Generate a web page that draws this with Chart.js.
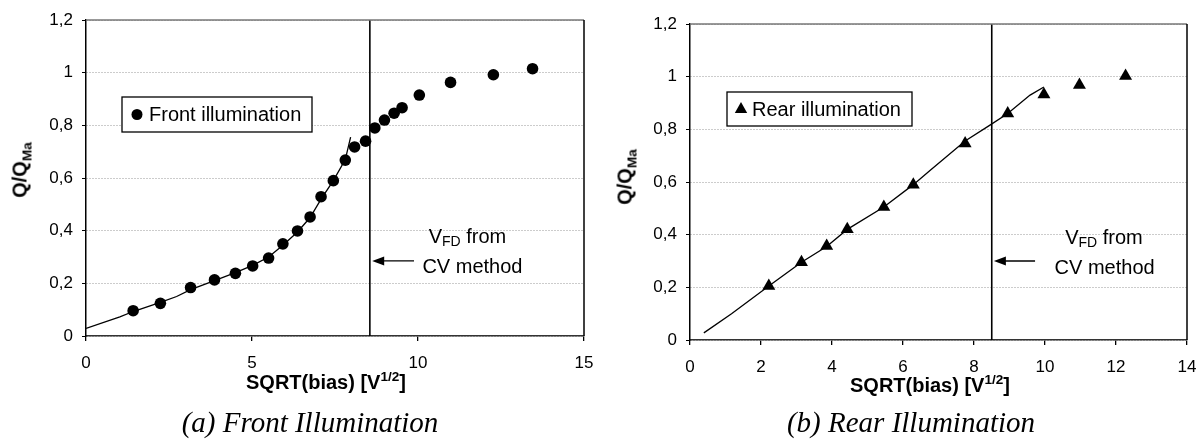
<!DOCTYPE html>
<html>
<head>
<meta charset="utf-8">
<script src="https://cdn.jsdelivr.net/npm/chart.js@4.4.1/dist/chart.umd.min.js"></script>
<style>
    body { margin: 0; background: #fff; }
    #wrap { position: relative; width: 1197px; height: 441px; overflow: hidden; font-family: "Liberation Sans", Arial, sans-serif; }
    .box { position: absolute; top: 0; }
    .ytitle, .xtitle, .caption { position: absolute; white-space: nowrap; transform: translate(-50%, -50%); }
    .ytitle { font-weight: bold; font-size: 20px; transform: translate(-50%, -50%) rotate(-90deg); }
    .xtitle { font-weight: bold; font-size: 20px; }
    .ytitle sub, .xtitle sup { font-size: 68%; line-height: 0; }
    .caption { font-family: "Liberation Serif", "DejaVu Serif", serif; font-style: italic; font-size: 29px; }
</style>
</head>
<body>
<div id="wrap">
    <div class="box" style="left:0"><canvas id="frontChart" width="598" height="400"></canvas></div>
    <div class="box" style="left:599px"><canvas id="rearChart" width="598" height="400"></canvas></div>

    <div class="ytitle" style="left:20px;top:170px">Q/Q<sub>Ma</sub></div>
    <div class="xtitle" style="left:326px;top:382px">SQRT(bias) [V<sup>1/2</sup>]</div>
    <div class="caption" style="left:310px;top:422px">(a) Front Illumination</div>

    <div class="ytitle" style="left:625px;top:177px">Q/Q<sub>Ma</sub></div>
    <div class="xtitle" style="left:930px;top:385px">SQRT(bias) [V<sup>1/2</sup>]</div>
    <div class="caption" style="left:911px;top:422px">(b) Rear Illumination</div>
</div>

<script>
// measured points, front illumination
const frontX = [1.42, 2.24, 3.15, 3.87, 4.5, 5.02, 5.5, 5.93, 6.37, 6.75, 7.08, 7.45, 7.81, 8.09, 8.42, 8.7, 8.99, 9.28, 9.52, 10.04, 10.98, 12.27, 13.45];
const frontY = [0.096, 0.124, 0.184, 0.213, 0.238, 0.266, 0.296, 0.35, 0.399, 0.452, 0.529, 0.59, 0.668, 0.718, 0.74, 0.79, 0.82, 0.846, 0.867, 0.915, 0.963, 0.992, 1.015];
// fitted curve, front
const frontFitX = [0, 1.02, 1.42, 2.24, 2.73, 3.15, 3.87, 4.5, 5.02, 5.5, 5.93, 6.37, 6.75, 7.08, 7.45, 7.81, 7.97];
const frontFitY = [0.029, 0.073, 0.093, 0.128, 0.15, 0.176, 0.21, 0.241, 0.268, 0.3, 0.345, 0.395, 0.45, 0.52, 0.59, 0.67, 0.755];

// measured points, rear illumination
const rearX = [2.22, 3.14, 3.85, 4.43, 5.46, 6.29, 7.75, 8.95, 9.97, 10.97, 12.27];
const rearY = [0.205, 0.295, 0.357, 0.421, 0.505, 0.59, 0.746, 0.86, 0.932, 0.968, 1.003];
// fitted curve, rear
const rearFitX = [0.39, 1.17, 2.22, 3.14, 3.85, 4.43, 5.46, 6.29, 6.76, 7.75, 8.45, 8.95, 9.58, 9.97];
const rearFitY = [0.027, 0.1, 0.205, 0.295, 0.355, 0.42, 0.505, 0.59, 0.644, 0.756, 0.816, 0.86, 0.93, 0.961];

// full depletion voltage from CV method
const frontVfd = 8.55;
const rearVfd = 8.5;

// tick values and labels
const yTickValues = [0, 0.2, 0.4, 0.6, 0.8, 1, 1.2];
const yTickLabels = ['0', '0,2', '0,4', '0,6', '0,8', '1', '1,2'];
const frontXTicks = [0, 5, 10, 15];
const rearXTicks = [0, 2, 4, 6, 8, 10, 12, 14];

const FONT = '"Liberation Sans", Arial, sans-serif';

function toPoints(xs, ys) {
    return xs.map((x, i) => ({ x: x, y: ys[i] }));
}

// text with a subscript part, centered at (cx, cy)
function drawSubText(ctx, parts, cx, cy) {
    let total = 0;
    parts.forEach(p => {
        ctx.font = p.size + 'px ' + FONT;
        p.w = ctx.measureText(p.text).width;
        total += p.w;
    });
    let x = cx - total / 2;
    ctx.textBaseline = 'middle';
    ctx.textAlign = 'left';
    parts.forEach(p => {
        ctx.font = p.size + 'px ' + FONT;
        ctx.fillText(p.text, x, cy + (p.dy || 0));
        x += p.w;
    });
}

// frame, legend box and the V_FD annotation
const plotDecor = {
    id: 'plotDecor',
    afterDatasetsDraw(chart, args, opts) {
        const { ctx, chartArea: a, scales } = chart;
        const sx = scales.x, sy = scales.y;
        ctx.save();

        ctx.lineWidth = 1.5;
        ctx.strokeStyle = '#777';
        ctx.beginPath();
        ctx.moveTo(a.left, a.top);
        ctx.lineTo(a.right, a.top);
        ctx.stroke();
        ctx.strokeStyle = '#000';
        ctx.beginPath();
        ctx.moveTo(a.right, a.top);
        ctx.lineTo(a.right, a.bottom);
        ctx.stroke();

        // legend
        const lg = opts.legend;
        const bx = a.left + lg.dx, by = a.top + lg.dy;
        ctx.fillStyle = '#fff';
        ctx.fillRect(bx, by, lg.w, lg.h);
        ctx.lineWidth = 1.3;
        ctx.strokeStyle = '#000';
        ctx.strokeRect(bx, by, lg.w, lg.h);
        ctx.fillStyle = '#000';
        const my = by + lg.h / 2;
        ctx.beginPath();
        if (lg.marker === 'circle') {
            ctx.arc(bx + lg.mx, my, 5.5, 0, Math.PI * 2);
        } else {
            ctx.moveTo(bx + lg.mx, my - 7);
            ctx.lineTo(bx + lg.mx + 6.2, my + 4);
            ctx.lineTo(bx + lg.mx - 6.2, my + 4);
            ctx.closePath();
        }
        ctx.fill();
        ctx.font = '20px ' + FONT;
        ctx.textAlign = 'left';
        ctx.textBaseline = 'middle';
        ctx.fillText(lg.text, bx + lg.tx, my + 1);

        // annotation
        const an = opts.note;
        ctx.fillStyle = '#000';
        drawSubText(ctx, [
            { text: 'V', size: 20 },
            { text: 'FD', size: 14, dy: 5 },
            { text: ' from', size: 20 }
        ], sx.getPixelForValue(an.x1), sy.getPixelForValue(an.y1));
        ctx.font = '20px ' + FONT;
        ctx.textAlign = 'center';
        ctx.fillText('CV method', sx.getPixelForValue(an.x2), sy.getPixelForValue(an.y2));

        const ax0 = sx.getPixelForValue(an.arrowFrom);
        const ax1 = sx.getPixelForValue(an.arrowTo);
        const ay = sy.getPixelForValue(an.arrowY);
        ctx.lineWidth = 1.3;
        ctx.beginPath();
        ctx.moveTo(ax0, ay);
        ctx.lineTo(ax1 + 6, ay);
        ctx.stroke();
        ctx.beginPath();
        ctx.moveTo(ax1, ay);
        ctx.lineTo(ax1 + 12, ay - 4.5);
        ctx.lineTo(ax1 + 12, ay + 4.5);
        ctx.closePath();
        ctx.fill();

        ctx.restore();
    }
};

function createChart(id, cfg) {
    const ctx = document.getElementById(id).getContext('2d');
    return new Chart(ctx, {
        type: 'scatter',
        data: {
            datasets: [
                {
                    label: cfg.label,
                    data: toPoints(cfg.x, cfg.y),
                    pointStyle: cfg.pointStyle,
                    pointRadius: cfg.pointRadius,
                    pointBackgroundColor: '#000',
                    pointBorderColor: '#000',
                    pointBorderWidth: 0,
                    order: 1
                },
                {
                    label: 'fit',
                    data: toPoints(cfg.fitX, cfg.fitY),
                    showLine: true,
                    pointRadius: 0,
                    borderColor: '#000',
                    borderWidth: 1.3,
                    order: 2
                },
                {
                    label: 'VFD',
                    data: [{ x: cfg.vfd, y: 0 }, { x: cfg.vfd, y: 1.2 }],
                    showLine: true,
                    pointRadius: 0,
                    borderColor: '#000',
                    borderWidth: 1.6,
                    order: 3
                }
            ]
        },
        options: {
            responsive: false,
            animation: false,
            events: [],
            layout: { padding: cfg.padding },
            plugins: {
                legend: { display: false },
                tooltip: { enabled: false },
                plotDecor: { legend: cfg.legend, note: cfg.note }
            },
            scales: {
                x: {
                    type: 'linear',
                    min: cfg.xTicks[0],
                    max: cfg.xTicks[cfg.xTicks.length - 1],
                    afterBuildTicks: s => { s.ticks = cfg.xTicks.map(v => ({ value: v })); },
                    afterFit: s => {
                        s.height = cfg.xHeight;
                        s.paddingLeft = 0;
                        s.paddingRight = 0;
                    },
                    grid: { drawOnChartArea: false, tickLength: 5, color: '#000', lineWidth: 1.3 },
                    border: { color: '#333', width: 1.5 },
                    ticks: {
                        color: '#000',
                        padding: 12,
                        maxRotation: 0,
                        font: { family: FONT, size: 17 }
                    }
                },
                y: {
                    min: 0,
                    max: 1.2,
                    afterBuildTicks: s => { s.ticks = yTickValues.map(v => ({ value: v })); },
                    afterFit: s => {
                        s.width = cfg.yWidth;
                        s.paddingTop = 0;
                        s.paddingBottom = 0;
                    },
                    grid: { color: '#999', lineWidth: 1, tickLength: 4, tickColor: '#000' },
                    border: { color: '#000', width: 1.5, dash: [1, 2] },
                    ticks: {
                        color: '#000',
                        padding: 9,
                        font: { family: FONT, size: 17 },
                        callback: (v, i) => yTickLabels[i]
                    }
                }
            }
        },
        plugins: [plotDecor]
    });
}

createChart('frontChart', {
    label: 'Front illumination',
    x: frontX, y: frontY, fitX: frontFitX, fitY: frontFitY, vfd: frontVfd,
    pointStyle: 'circle', pointRadius: 5.8,
    xTicks: frontXTicks,
    padding: { left: 0, top: 20, right: 14, bottom: 0 },
    yWidth: 86, xHeight: 64,
    legend: { text: 'Front illumination', marker: 'circle', dx: 36, dy: 77, w: 190, h: 35, mx: 15, tx: 27 },
    note: { x1: 11.49, y1: 0.376, x2: 11.64, y2: 0.262, arrowFrom: 9.88, arrowTo: 8.62, arrowY: 0.285 }
});

createChart('rearChart', {
    label: 'Rear illumination',
    x: rearX, y: rearY, fitX: rearFitX, fitY: rearFitY, vfd: rearVfd,
    pointStyle: 'triangle', pointRadius: 7.5,
    xTicks: rearXTicks,
    padding: { left: 0, top: 24, right: 10, bottom: 0 },
    yWidth: 91, xHeight: 60,
    legend: { text: 'Rear illumination', marker: 'triangle', dx: 37, dy: 68, w: 185, h: 34, mx: 14, tx: 25 },
    note: { x1: 11.66, y1: 0.387, x2: 11.68, y2: 0.273, arrowFrom: 9.72, arrowTo: 8.56, arrowY: 0.30 }
});
</script>
</body>
</html>
